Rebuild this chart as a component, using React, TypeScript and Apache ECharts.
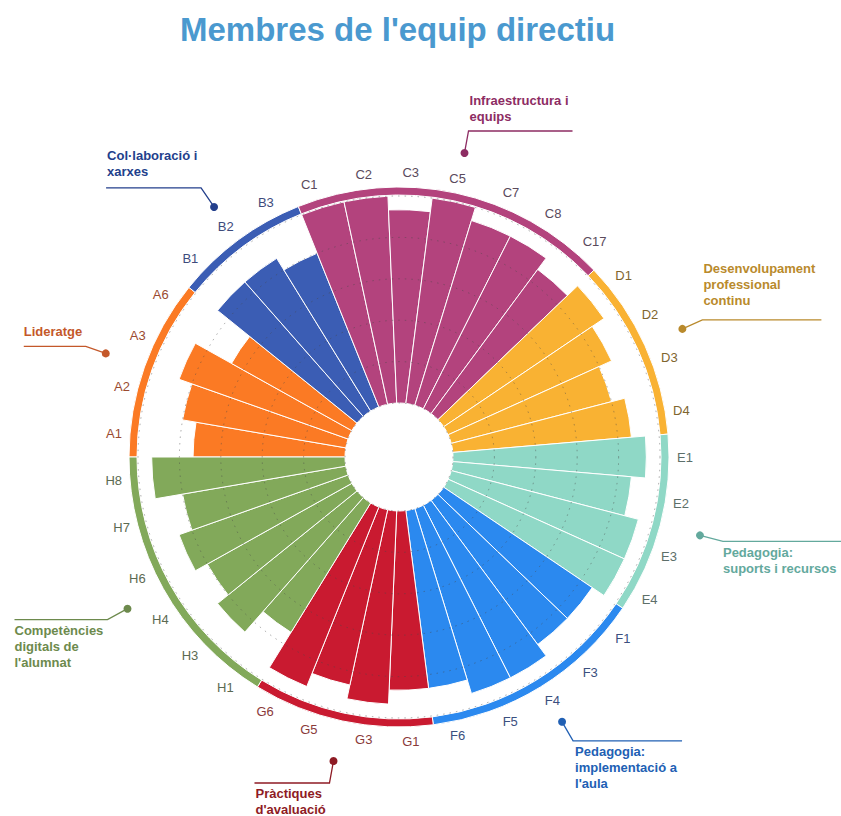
import React, { useEffect, useRef } from 'react';
import * as echarts from 'echarts';

// ---------- data ----------
const categories = ['A1', 'A2', 'A3', 'A6', 'B1', 'B2', 'B3', 'C1', 'C2', 'C3', 'C5', 'C7', 'C8', 'C17', 'D1', 'D2', 'D3', 'D4', 'E1', 'E2', 'E3', 'E4', 'F1', 'F3', 'F4', 'F5', 'F6', 'G1', 'G3', 'G5', 'G6', 'H1', 'H3', 'H4', 'H6', 'H7', 'H8'];
const values = [3.67, 4, 4.33, 3.33, 4.33, 4.33, 4, 5, 5, 4.67, 5, 4.67, 4.67, 4.33, 4.67, 4.33, 4, 4.33, 4.67, 4.33, 4.67, 4.67, 4.33, 4.33, 4.67, 4.67, 4.33, 4.33, 4.67, 4.33, 4.67, 3.67, 4.33, 4, 4.33, 4, 4.67];
const groupKeys = ['A', 'B', 'C', 'D', 'E', 'F', 'G', 'H'];
const groupNames = [
  'Lideratge',
  'Col·laboració i\nxarxes',
  'Infraestructura i\nequips',
  'Desenvolupament\nprofessional\ncontinu',
  'Pedagogia:\nsuports i recursos',
  'Pedagogia:\nimplementació a\nl\'aula',
  'Pràctiques\nd\'avaluació',
  'Competències\ndigitals de\nl\'alumnat',
];
const title = "Membres de l'equip directiu";

// ---------- styles ----------
const groupColors = ['#fb7a24', '#3b5db4', '#b3437d', '#f9b233', '#8fd8c6', '#2b89ef', '#c91a30', '#82a95a'];
const labelColors = ['#9a4a30', '#3e4b7c', '#5a4a5c', '#80652e', '#5d6f6a', '#3b5080', '#8a3a3a', '#5c6a52'];
const annotColors = ['#c4582a', '#233f8c', '#8d2c63', '#b98a2c', '#63a99d', '#2160b4', '#8e1b24', '#6d8a4d'];
// leader layout, offsets relative to dot: [elbow dx, elbow dy, end dx, end dy, text dx, text dy]
const annotLayout = [
  [-20, -7, -82, -7, -82, -30],
  [-13, -19, -108, -19, -107, -59],
  [4, -22, 108, -22, 5, -60],
  [20, -9, 139, -9, 21, -68],
  [23, 6, 141, 6, 23, 9],
  [11, 19, 120, 19, 13, 22],
  [-4, 22, -79, 22, -78, 24],
  [-20, 11, -113, 11, -113, 14],
];

const W = 841;
const H = 816;
const CX = 399;
const CY = 457;
const R_IN = 54;
const R_OUT = 261;
const RING_IN = 262;
const RING_OUT = 270;
const DOT_R = 311;
const FONT = '"Liberation Sans", Arial, Helvetica, sans-serif';

function groupIndex(cat: string) {
  return groupKeys.indexOf(cat.charAt(0));
}

export default function App() {
  const ref = useRef<HTMLDivElement>(null);

  useEffect(() => {
    const chart = echarts.init(ref.current!, null, { renderer: 'svg' });
    const n = categories.length;
    const counts = groupKeys.map((k) => categories.filter((c) => c.charAt(0) === k).length);

    const graphics: any[] = [];
    let cum = 0;
    groupKeys.forEach((k, i) => {
      const mid = cum + counts[i] / 2;
      cum += counts[i];
      const theta = ((270 + (mid * 360) / n) * Math.PI) / 180;
      const dx = CX + DOT_R * Math.sin(theta);
      const dy = CY - DOT_R * Math.cos(theta);
      const L = annotLayout[i];
      const col = annotColors[i];
      graphics.push({
        type: 'polyline',
        silent: true,
        shape: { points: [[dx, dy], [dx + L[0], dy + L[1]], [dx + L[2], dy + L[3]]] },
        style: { stroke: col, lineWidth: 1.3, fill: 'none' },
        z: 10,
      });
      graphics.push({
        type: 'circle',
        silent: true,
        shape: { cx: dx, cy: dy, r: 4 },
        style: { fill: col },
        z: 11,
      });
      graphics.push({
        type: 'text',
        silent: true,
        x: dx + L[4],
        y: dy + L[5],
        style: {
          text: groupNames[i],
          fill: col,
          fontSize: 13,
          fontWeight: 'bold',
          fontFamily: FONT,
          lineHeight: 16,
          textAlign: 'left',
          textVerticalAlign: 'top',
          align: 'left',
          verticalAlign: 'top',
        },
        z: 11,
      });
    });

    const rich: any = {};
    groupKeys.forEach((k, i) => {
      rich['g' + i] = { color: labelColors[i], fontSize: 13, fontFamily: FONT };
    });

    const option: any = {
      animation: false,
      backgroundColor: '#ffffff',
      title: {
        text: title,
        left: 175,
        top: 8,
        textStyle: { fontSize: 33, fontWeight: 'bold', color: '#4a99cf', fontFamily: FONT },
      },
      polar: { center: [CX, CY], radius: [R_IN, R_OUT] },
      angleAxis: {
        type: 'category',
        data: categories,
        startAngle: 180,
        clockwise: true,
        axisLine: { show: false },
        axisTick: { show: false },
        splitLine: { show: false },
        axisLabel: {
          interval: 0,
          margin: 17,
          fontSize: 13,
          fontFamily: FONT,
          formatter: (val: string) => '{g' + groupIndex(val) + '|' + val + '}',
          rich,
        },
      },
      radiusAxis: {
        min: 0,
        max: 5,
        interval: 1,
        z: 10,
        axisLine: { show: false },
        axisTick: { show: false },
        axisLabel: { show: false },
        splitLine: { show: true, lineStyle: { color: 'rgba(70,70,70,0.45)', type: [1.5, 5], width: 1 } },
      },
      series: [
        {
          type: 'bar',
          coordinateSystem: 'polar',
          barCategoryGap: '0%',
          data: values.map((v, i) => ({
            value: v,
            itemStyle: { color: groupColors[groupIndex(categories[i])] },
          })),
          itemStyle: { borderColor: '#ffffff', borderWidth: 1 },
          z: 2,
        },
        {
          type: 'pie',
          center: [CX, CY],
          radius: [RING_IN, RING_OUT],
          startAngle: 180,
          clockwise: true,
          silent: true,
          label: { show: false },
          labelLine: { show: false },
          itemStyle: { borderColor: '#ffffff', borderWidth: 1 },
          data: groupKeys.map((k, i) => ({ name: k, value: counts[i], itemStyle: { color: groupColors[i] } })),
        },
      ],
      graphic: graphics,
    };
    chart.setOption(option);
    return () => chart.dispose();
  }, []);

  return <div ref={ref} style={{ position: 'fixed', left: 0, top: 0, width: W, height: H }} />;
}
